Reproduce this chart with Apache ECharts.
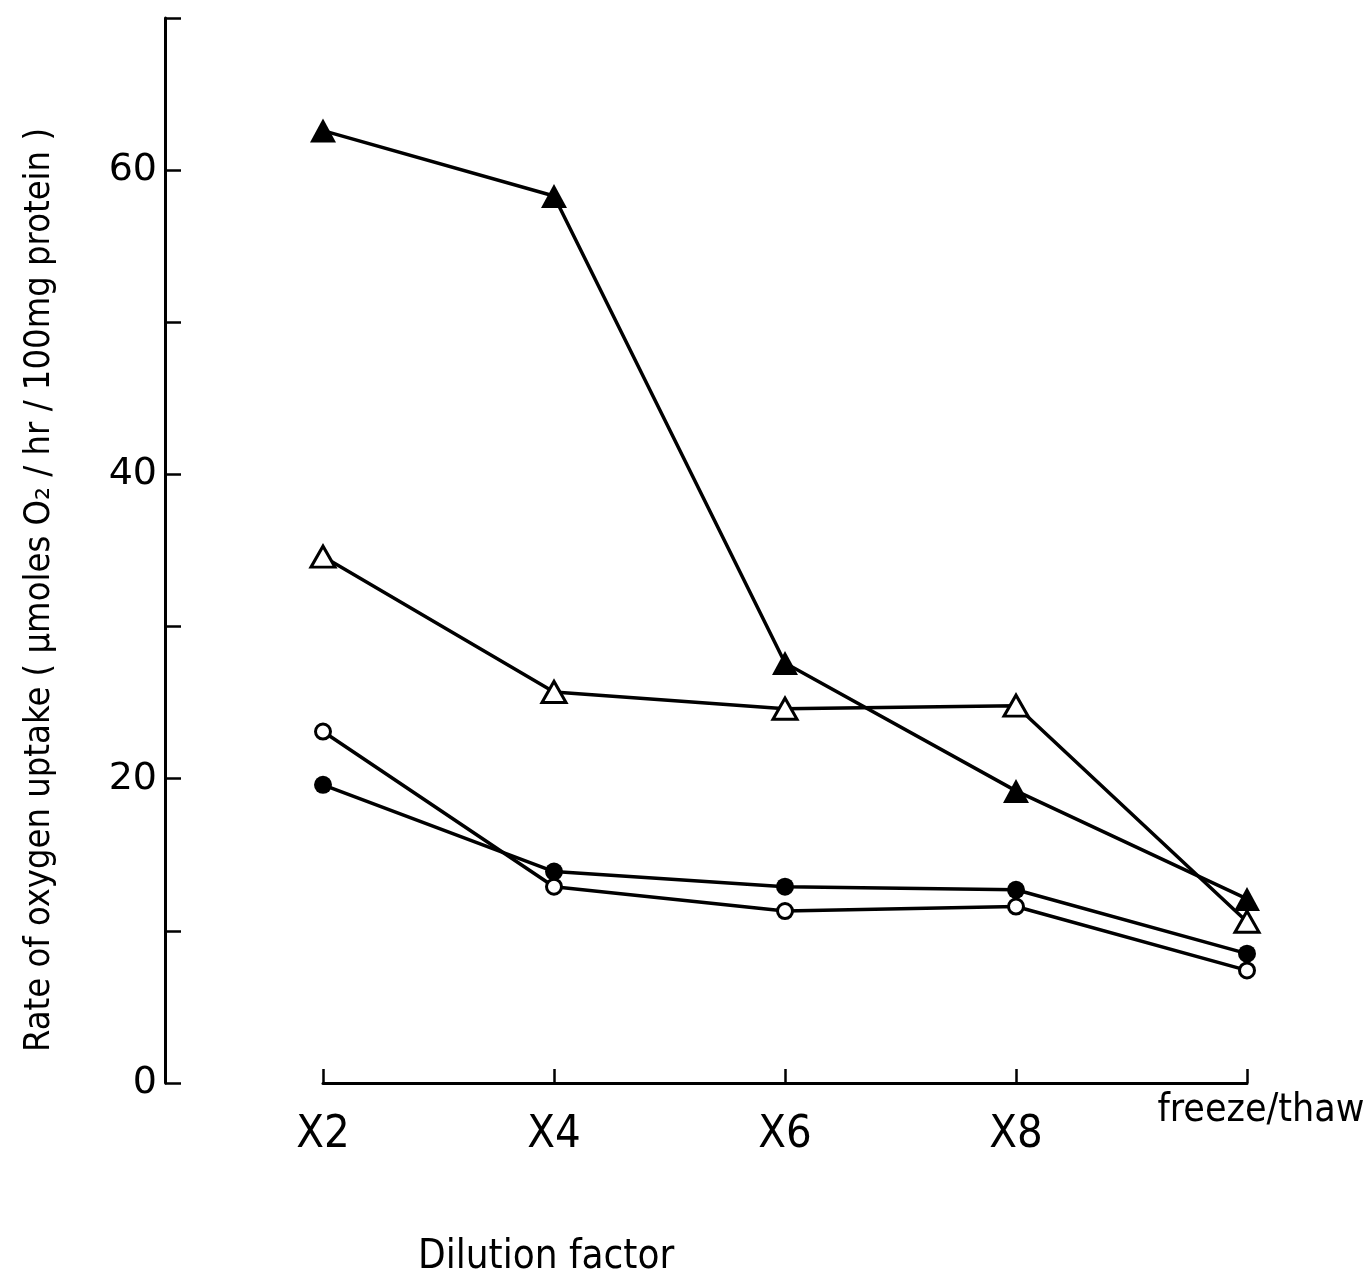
<!DOCTYPE html>
<html>
<head>
<meta charset="utf-8">
<script src="https://cdn.jsdelivr.net/npm/echarts@6/dist/echarts.min.js"></script>
<style>
  html, body { margin: 0; padding: 0; background: #fff; }
  #chart { width: 1365px; height: 1277px; }
</style>
</head>
<body>
<div id="chart"></div>
<script>
// dilution steps along the x axis
const categories = ['X2', 'X4', 'X6', 'X8', 'freeze/thaw'];

// rate of oxygen uptake
const filledTriangle = [62.6, 58.3, 27.6, 19.2, 12.1];
const openTriangle = [34.6, 25.7, 24.6, 24.8, 10.6];
const openCircle = [23.1, 12.9, 11.3, 11.6, 7.4];
const filledCircle = [19.6, 13.9, 12.9, 12.7, 8.5];

const yTickLabels = ['0', '20', '40', '60'];

const chart = echarts.init(document.getElementById('chart'));

const narrow = '"Liberation Sans Narrow", "DejaVu Sans Condensed", sans-serif';
const triPath = 'path://M0,-10 L10,8 L-10,8 Z';

function lineSeries(name, data, symbol, filled, size) {
  return {
    name: name,
    type: 'line',
    data: data,
    symbol: symbol,
    symbolSize: size,
    showSymbol: true,
    clip: false,
    lineStyle: { color: '#000', width: 3.5 },
    itemStyle: {
      color: filled ? '#000' : '#fff',
      borderColor: '#000',
      borderWidth: filled ? 0 : 3
    },
    z: 3
  };
}

const option = {
  backgroundColor: '#fff',
  animation: false,
  grid: { left: 323, right: 118, top: 18, bottom: 194, outerBoundsMode: 'none', containLabel: false },
  xAxis: {
    type: 'category',
    data: categories,
    boundaryGap: false,
    axisLine: { lineStyle: { color: '#000', width: 3 } },
    axisTick: { inside: true, length: 14, lineStyle: { color: '#000', width: 2.5 } },
    axisLabel: {
      margin: 8,
      interval: 0,
      formatter: function (v) {
        return v === 'freeze/thaw' ? '{f|' + v + '}' : '{x|' + v + '}';
      },
      rich: {
        x: { fontFamily: narrow, fontSize: 45, color: '#000', padding: [22, 0, 0, 0] },
        f: { fontFamily: narrow, fontSize: 39, color: '#000', padding: [0, 0, 0, 28] }
      }
    },
    splitLine: { show: false }
  },
  yAxis: {
    type: 'value',
    min: 0,
    max: 70,
    interval: 10,
    offset: 158,
    axisLine: { show: true, lineStyle: { color: '#000', width: 3 } },
    axisTick: { show: true, inside: true, length: 16, lineStyle: { color: '#000', width: 2.5 } },
    axisLabel: {
      margin: 8,
      fontFamily: '"DejaVu Sans", sans-serif',
      fontSize: 38,
      color: '#000',
      formatter: function (v) {
        return yTickLabels.indexOf(String(v)) >= 0 ? String(v) : '';
      }
    },
    splitLine: { show: false }
  },
  graphic: [{
    type: 'text',
    x: 40,
    y: 590,
    rotation: Math.PI / 2,
    style: {
      text: 'Rate of oxygen uptake ( µmoles O\u2082 / hr / 100mg protein )',
      font: '36px ' + narrow,
      fill: '#000',
      align: 'center',
      verticalAlign: 'middle'
    }
  }, {
    type: 'text',
    left: 418,
    top: 1238,
    style: { text: 'Dilution factor', font: '40px ' + narrow, fill: '#000' }
  }],
  series: [
    lineSeries('filled triangle', filledTriangle, triPath, true, [26, 24]),
    lineSeries('open triangle', openTriangle, triPath, false, [24, 21]),
    lineSeries('open circle', openCircle, 'circle', false, 15),
    lineSeries('filled circle', filledCircle, 'circle', true, 18)
  ]
};

chart.setOption(option);
</script>
</body>
</html>
